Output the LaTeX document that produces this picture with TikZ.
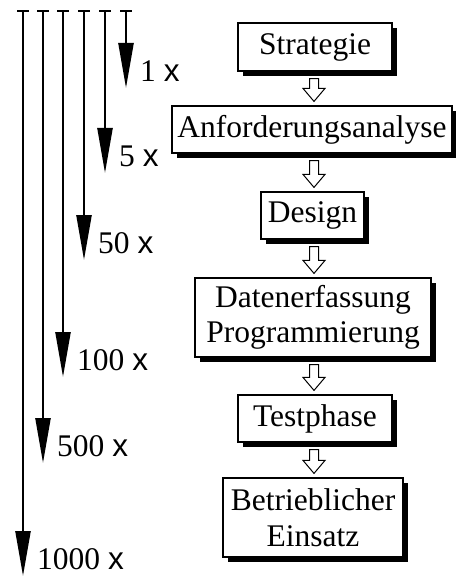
\documentclass[tikz,border=0pt]{standalone}
\usepackage{fontspec}
\setmainfont{Liberation Serif}
\newfontfamily\sansx{Liberation Sans}
\usetikzlibrary{arrows.meta,shadows,calc}
\newcommand\holarrow[2]{%
  \draw[hollow] let \p1=($(#1.south)+(0,7)$), \p2=($(#2.north)+(0,-4)$) in
    (314pt-4.5pt,\y1) -- (314pt+4.5pt,\y1) -- (314pt+4.5pt,\y2+13pt) --
    (314pt+11pt,\y2+13pt) -- (314pt,\y2) -- (314pt-11pt,\y2+13pt) --
    (314pt-4.5pt,\y2+13pt) -- cycle;}
\begin{document}
\begin{tikzpicture}[x=1pt,y=-1pt,
  box/.style={draw,line width=1.2pt,fill=white,inner sep=0pt,align=center,
    font=\fontsize{31.5}{35.5}\selectfont,
    drop shadow={shadow xshift=5pt,shadow yshift=-5pt,opacity=1,fill=black}},
  hollow/.style={draw,line width=1pt,fill=white,line join=miter},
  timeline/.style={line width=2.4pt,-{Triangle[length=45pt,width=15pt]}},
  tickline/.style={line width=2pt},
  lbl/.style={anchor=base west,inner sep=0pt,font=\fontsize{31.5}{35}\selectfont}]
\useasboundingbox (0,0) rectangle (455,577);
% boxes
\node[box,minimum width=154pt,minimum height=48pt] (s1) at (315,47) {Strategie};
\node[box,minimum width=280pt,minimum height=47pt] (s2) at (312,129.5) {Anforderungsanalyse};
\node[box,minimum width=103pt,minimum height=47pt] (s3) at (312.5,215.5) {Design};
\node[box,minimum width=236pt,minimum height=79pt] (s4) at (313,317.5) {Datenerfassung\\Programmierung};
\node[box,minimum width=154pt,minimum height=47pt] (s5) at (315,418.5) {Testphase};
\node[box,minimum width=180pt,minimum height=79pt] (s6) at (313,517.5) {Betrieblicher\\Einsatz};
\holarrow{s1}{s2}
\holarrow{s2}{s3}
\holarrow{s3}{s4}
\holarrow{s4}{s5}
\holarrow{s5}{s6}
% time lines
\foreach \i/\x/\y/\t in {1/126/88/1,2/105/173/5,3/84/260/50,4/63/377/100,5/43/463/500,6/23/576/1000}{
  \coordinate (t\i) at (\x,11);
  \coordinate (b\i) at (\x,\y);
  \draw[tickline] ($(t\i)+(-6,0)$) -- ($(t\i)+(6,0)$);
  \draw[timeline] (t\i) -- (b\i);
  \node[lbl] (l\i) at ($(b\i)+(14,-6.5)$) {\t\ {\sansx x}};
}
\end{tikzpicture}
\end{document}
